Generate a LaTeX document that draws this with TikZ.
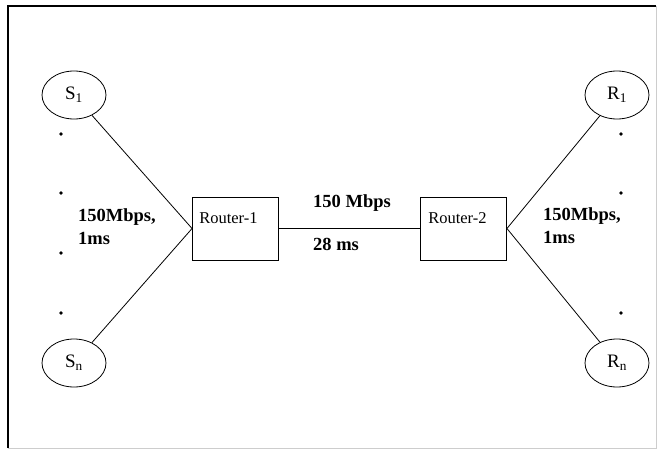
\documentclass[tikz,border=0pt]{standalone}
\usepackage{fontspec}
\setmainfont{Liberation Serif}
\usetikzlibrary{shapes.geometric, positioning, calc}
\definecolor{framegray}{RGB}{205, 205, 205}
\tikzset{
  host/.style={draw, ellipse, line width=0.8pt, minimum width=64pt, minimum height=48pt, inner sep=0pt, font=\fontsize{19}{21}\selectfont},
  router/.style={draw, line width=0.9pt, minimum width=86pt, minimum height=63pt, inner sep=0pt},
  rtext/.style={anchor=base west, inner sep=0pt, font=\fontsize{16.5}{19}\selectfont},
  linktext/.style={inner sep=0pt, align=left, font=\bfseries\fontsize{18.5}{23}\selectfont},
  link/.style={line width=0.8pt}
}

\begin{document}
\begin{tikzpicture}[x=1pt, y=-1pt]
  \useasboundingbox (0,0) rectangle (657,450);
  % outer frame
  \draw[line width=1.5pt] (8,448) -- (8,6) -- (656,6);
  \draw[framegray, line width=1pt] (656,6) -- (656,448) -- (8,448);

  % senders and receivers
  \node[host] (s1) at (74,95) {S\textsubscript{1}};
  \node[host] (sn) at (74,363) {S\textsubscript{n}};
  \node[host] (r1) at (617,95) {R\textsubscript{1}};
  \node[host] (rn) at (617,363) {R\textsubscript{n}};

  % routers
  \node[router] (rt1) at (235.5,228.5) {};
  \node[router] (rt2) at (463.5,228.5) {};
  \node[rtext] (rt1lbl) at ([xshift=7pt,yshift=5pt]rt1.west) {Router-1};
  \node[rtext] (rt2lbl) at ([xshift=8pt,yshift=5pt]rt2.west) {Router-2};

  % links
  \draw[link] (s1) -- (rt1.west);
  \draw[link] (sn) -- (rt1.west);
  \draw[link] (rt1) -- (rt2);
  \draw[link] (r1) -- (rt2.east);
  \draw[link] (rn) -- (rt2.east);

  % link labels
  \node[linktext, anchor=base west] (bwcore) at (313,207) {150 Mbps};
  \node[linktext, anchor=base west] (dlcore) at (313,250) {28 ms};
  \node[linktext, anchor=north west] (accl) at (78,208) {150Mbps,\\1ms};
  \node[linktext, anchor=north west] (accr) at (543,207) {150Mbps,\\1ms};

  % dots between hosts
  \foreach \y in {134,193,253,313}
    \fill (61,\y) circle (1.8pt);
  \foreach \y in {134,193,313}
    \fill (621,\y) circle (1.8pt);
\end{tikzpicture}
\end{document}
